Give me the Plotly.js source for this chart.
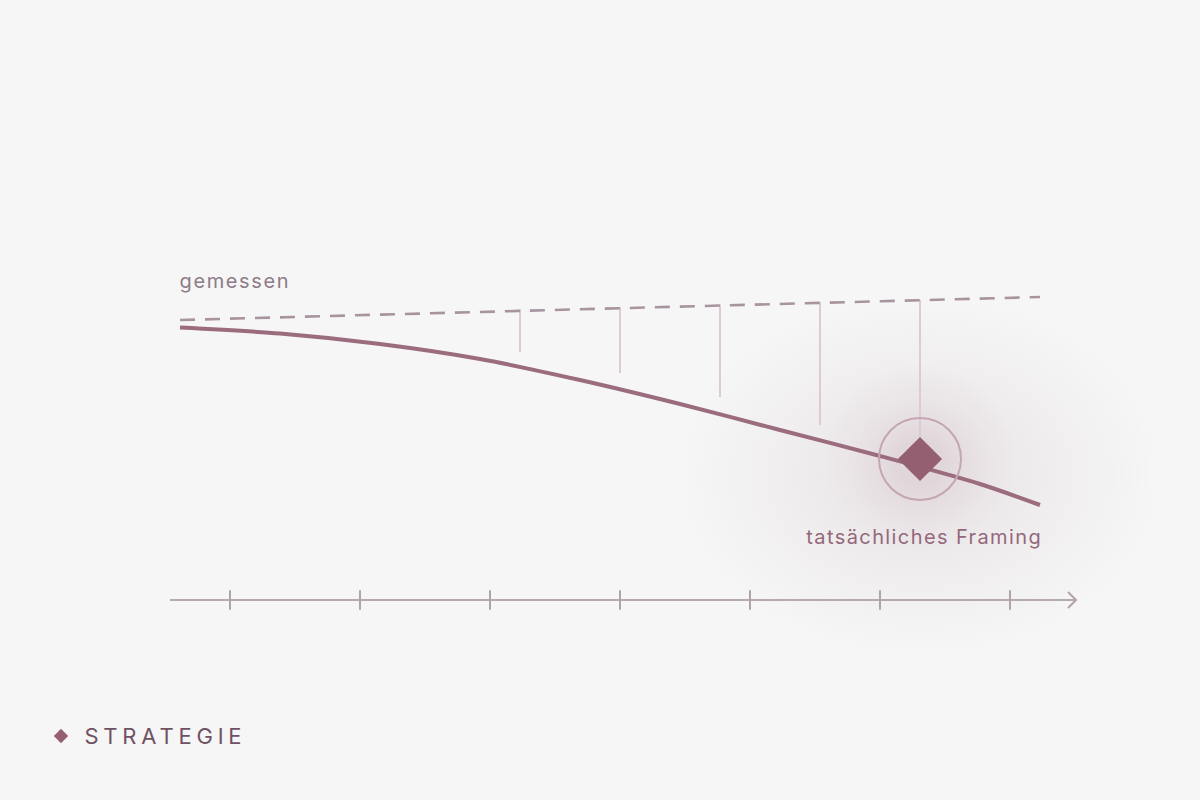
<!DOCTYPE html>
<html>
<head>
<meta charset="utf-8">
<script src="https://cdn.plot.ly/plotly-3.0.1.min.js"></script>
<style>
  html, body { margin: 0; padding: 0; background: #f6f6f6; }
  #chart { width: 1200px; height: 800px; }
  g.annotation[data-index="0"] text { letter-spacing: 1.6px; }
  g.annotation[data-index="1"] text { letter-spacing: 1.4px; }
  g.annotation[data-index="2"] text { letter-spacing: 4.8px; }
</style>
</head>
<body>
<div id="chart"></div>
<script>
// chart space: x runs left to right, y runs top to bottom (screen-like units)
const framingX = [180, 280, 380, 480, 580, 680, 780, 880, 980, 1040];
const framingY = [327.5, 333.5, 344, 359, 380, 404, 430, 456, 484, 505];

const measuredX = [180, 1040];
const measuredY = [320, 297];

const dropX = [520, 620, 720, 820, 920];
const dropTop = [309, 307, 304.5, 302, 300];
const dropBottom = [352, 373, 397, 425, 440];

const focusX = [920];
const focusY = [459];

const axisStart = 170;
const axisEnd = 1076;
const axisLevel = 600;
const tickX = [230, 360, 490, 620, 750, 880, 1010];

const labelMeasured = 'gemessen';
const labelActual = 'tatsächliches Framing';
const labelSection = 'STRATEGIE';

// soft halo behind the highlighted point
const haloW = 480;
const haloH = 360;
const haloCx = 920;
const haloCy = 475;

function glowImage() {
    const c = document.createElement('canvas');
    c.width = haloW;
    c.height = haloH;
    const ctx = c.getContext('2d');

    ctx.save();
    ctx.translate(haloW / 2, haloH / 2);
    ctx.scale(1, haloH / haloW);
    const g = ctx.createRadialGradient(0, 0, 0, 0, 0, haloW / 2);
    g.addColorStop(0, 'rgba(140, 95, 115, 0.12)');
    g.addColorStop(0.4, 'rgba(140, 95, 115, 0.075)');
    g.addColorStop(0.7, 'rgba(140, 95, 115, 0.035)');
    g.addColorStop(0.9, 'rgba(140, 95, 115, 0.01)');
    g.addColorStop(1, 'rgba(140, 95, 115, 0)');
    ctx.fillStyle = g;
    ctx.fillRect(-haloW / 2, -haloW / 2, haloW, haloW);
    ctx.restore();

    const cy = haloH / 2 - (haloCy - focusY[0]);
    const core = ctx.createRadialGradient(haloW / 2, cy, 0, haloW / 2, cy, 95);
    core.addColorStop(0, 'rgba(145, 90, 112, 0.14)');
    core.addColorStop(0.5, 'rgba(145, 90, 112, 0.06)');
    core.addColorStop(1, 'rgba(145, 90, 112, 0)');
    ctx.fillStyle = core;
    ctx.fillRect(0, 0, haloW, haloH);
    return c.toDataURL();
}

const dropXs = [];
const dropYs = [];
dropX.forEach(function (x, i) {
    dropXs.push(x, x, null);
    dropYs.push(dropTop[i], dropBottom[i], null);
});

const traces = [
    {
        x: dropXs, y: dropYs, mode: 'lines', hoverinfo: 'skip',
        line: {color: '#dccbd2', width: 2},
    },
    {
        x: measuredX, y: measuredY, mode: 'lines', hoverinfo: 'skip',
        line: {color: '#a8949f', width: 2.6, dash: '15px,10px'},
    },
    {
        x: framingX, y: framingY, mode: 'lines', hoverinfo: 'skip',
        line: {color: '#9b6b7e', width: 4, shape: 'spline', smoothing: 0.8},
    },
    {
        x: [axisStart, axisEnd], y: [axisLevel, axisLevel], mode: 'lines', hoverinfo: 'skip',
        line: {color: '#b6aab2', width: 2},
    },
    {
        x: [axisEnd - 8, axisEnd, axisEnd - 8], y: [axisLevel - 8, axisLevel, axisLevel + 8],
        mode: 'lines', hoverinfo: 'skip',
        line: {color: '#b0a3ac', width: 2},
    },
    {
        x: tickX, y: tickX.map(function () { return axisLevel; }), mode: 'markers', hoverinfo: 'skip',
        marker: {symbol: 'line-ns', size: 14, line: {color: '#b0a4ac', width: 2}},
    },
    {
        x: focusX, y: focusY, mode: 'markers', hoverinfo: 'skip',
        marker: {symbol: 'circle-open', size: 82, color: '#c4a6b2', line: {color: '#c4a6b2', width: 2}},
    },
    {
        x: focusX, y: focusY, mode: 'markers', hoverinfo: 'skip',
        marker: {symbol: 'diamond', size: 34, color: '#955f72', line: {width: 0}},
    },
    {
        x: [61], y: [736], mode: 'markers', hoverinfo: 'skip',
        marker: {symbol: 'diamond', size: 11, color: '#955f72', line: {width: 0}},
    },
];

const layout = {
    width: 1200,
    height: 800,
    margin: {l: 0, r: 0, t: 0, b: 0},
    paper_bgcolor: '#f6f6f6',
    plot_bgcolor: 'rgba(0,0,0,0)',
    showlegend: false,
    font: {family: 'Inter, sans-serif'},
    xaxis: {range: [0, 1200], visible: false, fixedrange: true},
    yaxis: {range: [800, 0], visible: false, fixedrange: true},
    images: [{
        source: glowImage(),
        xref: 'paper', yref: 'paper',
        x: (haloCx - haloW / 2) / 1200, y: 1 - (haloCy - haloH / 2) / 800,
        sizex: haloW / 1200, sizey: haloH / 800,
        xanchor: 'left', yanchor: 'top',
        sizing: 'stretch', layer: 'below',
    }],
    // letter-spacing (css) widens text around its middle, so labels are placed by centre
    annotations: [
        {
            x: 234.8, y: 281, xref: 'x', yref: 'y', text: labelMeasured, showarrow: false,
            xanchor: 'center', yanchor: 'middle',
            font: {family: 'Inter, sans-serif', size: 20, color: '#8d7b86'},
        },
        {
            x: 923.7, y: 537, xref: 'x', yref: 'y', text: labelActual, showarrow: false,
            xanchor: 'center', yanchor: 'middle',
            font: {family: 'Inter, sans-serif', size: 20, color: '#94687a'},
        },
        {
            x: 165, y: 736, xref: 'x', yref: 'y', text: labelSection, showarrow: false,
            xanchor: 'center', yanchor: 'middle',
            font: {family: 'Inter, sans-serif', size: 22, color: '#6f5262'},
        },
    ],
};

Plotly.newPlot('chart', traces, layout, {displayModeBar: false, staticPlot: true});
</script>
</body>
</html>
